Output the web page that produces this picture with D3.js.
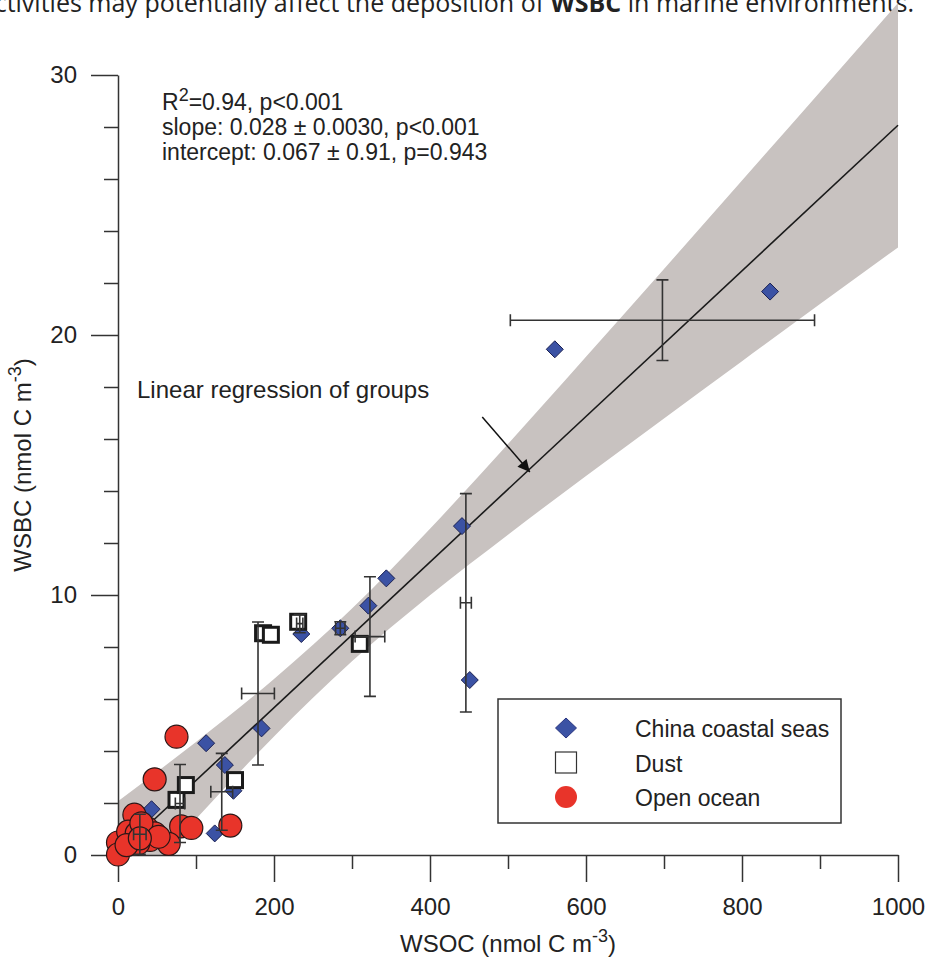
<!DOCTYPE html>
<meta charset="utf-8">
<style>
  body { margin: 0; background: #fff; }
  svg { display: block; font-family: "Liberation Sans", Arial, sans-serif; }
</style>
<svg width="930" height="959"></svg>
<script src="https://cdn.jsdelivr.net/npm/d3@7"></script>
<script>
// China coastal seas
var coastalX = [43, 113, 124, 137, 148, 184, 235, 285, 321, 344, 441, 451, 560, 836];
var coastalY = [1.76, 4.3, 0.83, 3.46, 2.47, 4.87, 8.5, 8.72, 9.59, 10.64, 12.65, 6.73, 19.45, 21.67];
// Dust
var dustX = [75, 87, 150, 186, 196, 231, 310];
var dustY = [2.12, 2.69, 2.88, 8.53, 8.47, 8.97, 8.12];
// Open ocean
var oceanX = [75, 47, 21, 81, 94, 144, 0, 0, 65, 13, 24, 37, 47, 41, 26, 11, 30, 52, 28];
var oceanY = [4.55, 2.91, 1.55, 1.1, 1.04, 1.13, 0.48, 0.02, 0.43, 0.9, 0.83, 1.03, 0.83, 0.58, 0.45, 0.38, 1.22, 0.7, 0.64];
// group means +- sd
var groupX = [28, 79.5, 133, 179.5, 233, 285, 323, 446, 698];
var groupY = [0.8, 1.98, 2.43, 6.21, 8.9, 8.72, 8.4, 9.7, 20.57];
var groupXErr = [8, 6, 14, 21, 4, 6, 19, 7, 195];
var groupYErr = [0.77, 1.5, 1.48, 2.75, 0.35, 0.25, 2.3, 4.2, 1.55];
// regression of groups and its confidence band
var fitIntercept = 0.067, fitSlope = 0.028;
var bandX = [0, 100, 200, 300, 400, 500, 600, 700, 800, 900, 1000];
var bandUpper = [2.07, 4.35, 6.77, 9.48, 12.55, 15.81, 19.16, 22.54, 25.94, 29.35, 32.77];
var bandLower = [-1.93, 1.38, 4.56, 7.45, 9.99, 12.32, 14.58, 16.79, 18.99, 21.19, 23.37];
var arrowFrom = [467, 16.85], arrowTo = [528, 14.73];

var xTicks = [0, 200, 400, 600, 800, 1000];
var xMinor = [100, 300, 500, 700, 900];
var yTicks = [0, 10, 20, 30];
var yMinor = [2, 4, 6, 8, 12, 14, 16, 18, 22, 24, 26, 28];
var statLines = ["=0.94, p<0.001", "slope: 0.028 \u00b1 0.0030, p<0.001", "intercept: 0.067 \u00b1 0.91, p=0.943"];
var legendLabels = ["China coastal seas", "Dust", "Open ocean"];

var svg = d3.select("svg");
var x = d3.scaleLinear().domain([0, 1000]).range([118, 898]);
var y = d3.scaleLinear().domain([0, 30]).range([855, 75]);

// cropped caption line from the page above the figure
var cap = svg.append("text")
    .attr("x", 914).attr("y", 12)
    .attr("text-anchor", "end")
    .style("font-family", "'Open Sans', sans-serif")
    .style("font-size", "25px").style("fill", "#222");
cap.append("tspan").text("activities may potentially affect the deposition of ");
cap.append("tspan").style("font-weight", "bold").text("WSBC");
cap.append("tspan").text(" in marine environments.");

svg.append("defs").append("clipPath").attr("id", "plot")
  .append("rect").attr("x", x(0)).attr("y", 0).attr("width", x(1000) - x(0)).attr("height", y(0));
svg.select("defs").append("marker")
    .attr("id", "head").attr("markerUnits", "userSpaceOnUse")
    .attr("viewBox", "0 0 10 10").attr("refX", 10).attr("refY", 5)
    .attr("markerWidth", 17).attr("markerHeight", 12).attr("orient", "auto")
  .append("path").attr("d", "M0,0L10,5L0,10Z").style("fill", "#111");

var band = bandX.map(function(d, i) { return {x: d, lo: bandLower[i], hi: bandUpper[i]}; });
svg.append("path")
    .datum(band)
    .attr("clip-path", "url(#plot)")
    .attr("d", d3.area().curve(d3.curveMonotoneX)
      .x(function(d) { return x(d.x); })
      .y0(function(d) { return y(d.lo); })
      .y1(function(d) { return y(d.hi); }))
    .style("fill", "#c8c2c0");

svg.append("line")
    .attr("x1", x(0)).attr("y1", y(fitIntercept))
    .attr("x2", x(1000)).attr("y2", y(fitIntercept + fitSlope * 1000))
    .style("stroke", "#1a1a1a").style("stroke-width", 1.6);

// axes
var yMinorAxis = svg.append("g").attr("transform", "translate(" + x(0) + ",0)")
    .call(d3.axisLeft(y).tickValues(yMinor).tickSize(14).tickFormat(""));
yMinorAxis.select(".domain").remove();
var xMinorAxis = svg.append("g").attr("transform", "translate(0," + y(0) + ")")
    .call(d3.axisBottom(x).tickValues(xMinor).tickSize(14).tickFormat(""));
xMinorAxis.select(".domain").remove();

var yAxis = svg.append("g").attr("transform", "translate(" + x(0) + ",0)")
    .call(d3.axisLeft(y).tickValues(yTicks).tickSize(27).tickSizeOuter(0).tickPadding(14).tickFormat(d3.format("d")));
var xAxis = svg.append("g").attr("transform", "translate(0," + y(0) + ")")
    .call(d3.axisBottom(x).tickValues(xTicks).tickSize(27).tickSizeOuter(0).tickPadding(16).tickFormat(d3.format("d")));

svg.selectAll(".tick line, .domain").style("stroke", "#333").style("stroke-width", 1.5);
svg.selectAll(".tick text").style("font-size", "24px").style("fill", "#222")
    .style("font-family", "'Liberation Sans', Arial, sans-serif");

// points
svg.append("g").selectAll("path")
  .data(coastalX)
  .enter().append("path")
    .attr("transform", function(d, i) { return "translate(" + x(d) + "," + y(coastalY[i]) + ")"; })
    .attr("d", "M0,-8.5L8.5,0L0,8.5L-8.5,0Z")
    .style("fill", "#3b52a4").style("stroke", "#1b2152").style("stroke-width", 1);

svg.append("g").selectAll("rect")
  .data(dustX)
  .enter().append("rect")
    .attr("x", function(d) { return x(d) - 7.5; })
    .attr("y", function(d, i) { return y(dustY[i]) - 7.5; })
    .attr("width", 15).attr("height", 15)
    .style("fill", "#fff").style("stroke", "#1a1a1a").style("stroke-width", 3);

svg.append("g").selectAll("circle")
  .data(oceanX)
  .enter().append("circle")
    .attr("cx", function(d) { return x(d); })
    .attr("cy", function(d, i) { return y(oceanY[i]); })
    .attr("r", 11.5)
    .style("fill", "#e8342a").style("stroke", "#2a1616").style("stroke-width", 1.2);

// error bars
var eb = svg.append("g").style("stroke", "#333").style("stroke-width", 1.6).style("fill", "none");
groupX.forEach(function(gx, i) {
  var cx = x(gx), cy = y(groupY[i]);
  var x0 = x(gx - groupXErr[i]), x1 = x(gx + groupXErr[i]);
  var y0 = y(groupY[i] - groupYErr[i]), y1 = y(groupY[i] + groupYErr[i]);
  eb.append("path").attr("d",
    "M" + cx + "," + y0 + "V" + y1 +
    "M" + (cx - 6) + "," + y0 + "H" + (cx + 6) +
    "M" + (cx - 6) + "," + y1 + "H" + (cx + 6) +
    "M" + x0 + "," + cy + "H" + x1 +
    "M" + x0 + "," + (cy - 6) + "V" + (cy + 6) +
    "M" + x1 + "," + (cy - 6) + "V" + (cy + 6));
});

// stats text
var stats = svg.append("g").style("font-size", "23px").style("fill", "#222");
var s0 = stats.append("text").attr("x", 162).attr("y", 110);
s0.append("tspan").text("R");
s0.append("tspan").attr("dy", -9).style("font-size", "18px").text("2");
s0.append("tspan").attr("dy", 9).text(statLines[0]);
stats.append("text").attr("x", 162).attr("y", 135).text(statLines[1]);
stats.append("text").attr("x", 162).attr("y", 160).text(statLines[2]);

svg.append("text").attr("x", 137).attr("y", 398)
    .style("font-size", "24px").style("fill", "#222")
    .text("Linear regression of groups");
svg.append("line")
    .attr("x1", x(arrowFrom[0])).attr("y1", y(arrowFrom[1]))
    .attr("x2", x(arrowTo[0])).attr("y2", y(arrowTo[1]))
    .attr("marker-end", "url(#head)")
    .style("stroke", "#111").style("stroke-width", 1.5);

// axis titles
var xt = svg.append("text").attr("x", 508).attr("y", 952).attr("text-anchor", "middle")
    .style("font-size", "24px").style("fill", "#222");
xt.append("tspan").text("WSOC (nmol C m");
xt.append("tspan").attr("dy", -10).style("font-size", "18px").text("-3");
xt.append("tspan").attr("dy", 10).text(")");

var yt = svg.append("text").attr("transform", "translate(31,465) rotate(-90)").attr("text-anchor", "middle")
    .style("font-size", "24px").style("fill", "#222");
yt.append("tspan").text("WSBC (nmol C m");
yt.append("tspan").attr("dy", -10).style("font-size", "18px").text("-3");
yt.append("tspan").attr("dy", 10).text(")");

// legend
var lg = svg.append("g");
lg.append("rect").attr("x", 498).attr("y", 699).attr("width", 343).attr("height", 124)
    .style("fill", "#fff").style("stroke", "#333").style("stroke-width", 1.5);
var items = lg.selectAll("g.item").data(legendLabels).enter().append("g")
    .attr("transform", function(d, i) { return "translate(566," + (728 + i * 34.5) + ")"; });
items.append("text").attr("x", 69).attr("y", 9)
    .style("font-size", "23px").style("fill", "#222")
    .text(function(d) { return d; });
items.filter(function(d, i) { return i === 0; }).append("path")
    .attr("d", "M0,-10L10.5,0L0,10L-10.5,0Z").style("fill", "#3b52a4").style("stroke", "#2a3580");
items.filter(function(d, i) { return i === 1; }).append("rect")
    .attr("x", -10.5).attr("y", -10.5).attr("width", 21).attr("height", 21)
    .style("fill", "#fff").style("stroke", "#333").style("stroke-width", 1.2);
items.filter(function(d, i) { return i === 2; }).append("circle")
    .attr("r", 11).style("fill", "#e8342a");
</script>
